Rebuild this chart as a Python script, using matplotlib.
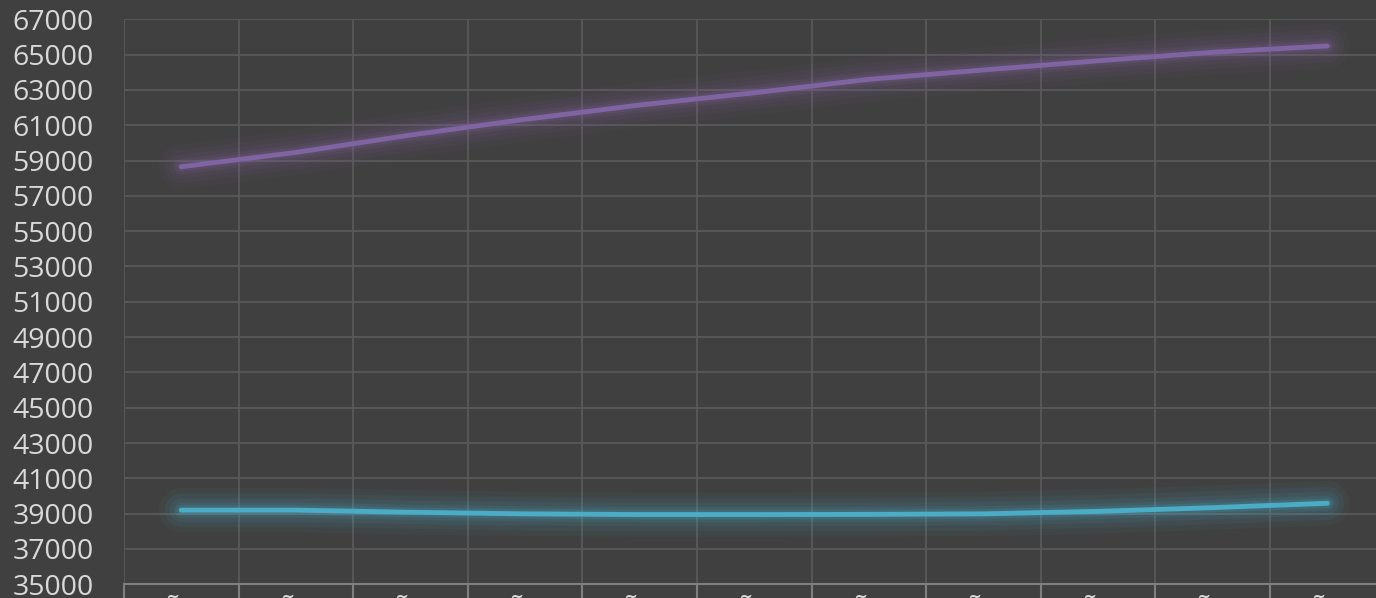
import numpy as np
from matplotlib import pyplot as plt
from matplotlib.ticker import FixedLocator

# data
categories = ["años"] * 11
y_ticks = list(range(35000, 67001, 2000))
serie_morada = [58650, 59460, 60445, 61335, 62145, 62840, 63600, 64130, 64650, 65130, 65490]
serie_celeste = [39200, 39200, 39080, 38990, 38950, 38950, 38960, 38990, 39130, 39340, 39590]

BG = "#404040"
GRID = "#595959"
TEXT = "#d9d9d9"

plt.rcParams["font.family"] = ["Open Sans", "DejaVu Sans"]

fig = plt.figure(figsize=(13.76, 5.98), dpi=100, facecolor=BG)
ax = fig.add_axes([124 / 1376, 13.7 / 598, 1260.6 / 1376, 565 / 598], facecolor=BG)

x = np.arange(len(categories))

# soft glow under each line, then the line itself
for values, color in [(serie_morada, "#8064a2"), (serie_celeste, "#4bacc6")]:
    for lw, alpha in [(32, 0.05), (24, 0.07), (17, 0.09), (11, 0.12), (7, 0.16)]:
        ax.plot(x, values, color=color, lw=lw, alpha=alpha,
                solid_capstyle="round", zorder=2)
    ax.plot(x, values, color=color, lw=3.5, solid_capstyle="round", zorder=3)

# cosmetic tuning
ax.set_xlim(-0.5, len(categories) - 0.5)
ax.set_ylim(y_ticks[0], y_ticks[-1])
ax.yaxis.set_major_locator(FixedLocator(y_ticks))
ax.set_xticks(x)
ax.set_xticklabels(categories)
ax.xaxis.set_minor_locator(FixedLocator(np.arange(-0.5, len(categories), 1)))

ax.grid(axis="y", which="major", color=GRID, lw=1.3)
ax.grid(axis="x", which="minor", color=GRID, lw=1.3)
ax.set_axisbelow(True)

for side in ["top", "right", "left"]:
    ax.spines[side].set_visible(False)
ax.spines["bottom"].set_color("#7f7f7f")
ax.spines["bottom"].set_linewidth(1.5)

ax.tick_params(axis="y", length=0, pad=22, labelsize=20.5, labelcolor=TEXT)
ax.tick_params(axis="x", which="major", length=0, pad=7, labelsize=21, labelcolor=TEXT)
ax.tick_params(axis="x", which="minor", length=14, width=1.5, color="#7f7f7f")

fig.savefig("out.png", dpi=100, facecolor=BG)
